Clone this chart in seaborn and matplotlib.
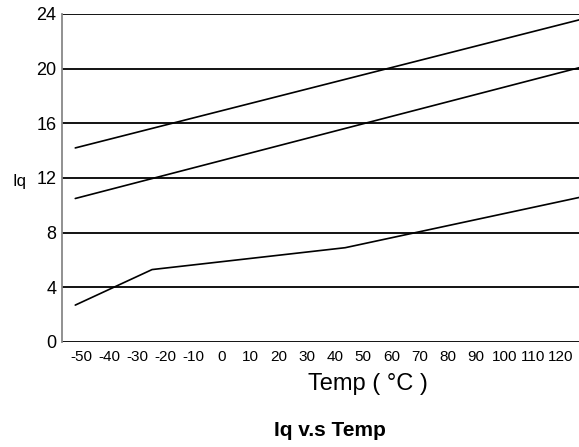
import pandas as pd
import matplotlib.pyplot as plt
import seaborn as sns

temp_a = [-52, 127]
iq_a = [14.2, 23.6]
temp_b = [-52, 127]
iq_b = [10.5, 20.1]
temp_c = [-52, -24.8, 43.6, 127]
iq_c = [2.7, 5.3, 6.9, 10.6]

x_ticks = [-50, -40, -30, -20, -10, 0, 10, 20, 30, 40, 50, 60, 70, 80, 90, 100, 110, 120]
y_ticks = [0, 4, 8, 12, 16, 20, 24]

df = pd.concat([
    pd.DataFrame({"Temp": temp_a, "Iq": iq_a, "curve": "a"}),
    pd.DataFrame({"Temp": temp_b, "Iq": iq_b, "curve": "b"}),
    pd.DataFrame({"Temp": temp_c, "Iq": iq_c, "curve": "c"}),
])

sns.set_style("white")
plt.rcParams["font.family"] = ["Liberation Sans", "DejaVu Sans"]
plt.rcParams["text.color"] = "black"
plt.rcParams["xtick.color"] = "black"
plt.rcParams["ytick.color"] = "black"

fig = plt.figure(figsize=(5.79, 4.47), dpi=100)
ax = fig.add_axes([62 / 579, 105 / 447, 1 - 62 / 579, 328 / 447])

sns.lineplot(data=df, x="Temp", y="Iq", units="curve", estimator=None,
             color="black", linewidth=1.2, ax=ax)

ax.set_xlim(-56.7, 126.4)
ax.set_ylim(0, 24)
ax.set_yticks(y_ticks)
ax.set_xticks(x_ticks)
ax.set_xticklabels([str(t) for t in x_ticks], fontsize=11)
ax.tick_params(axis="y", labelsize=13, length=0, pad=4, labelcolor="black")
ax.tick_params(axis="x", length=0, pad=6, labelcolor="black")
for y in y_ticks:
    ax.axhline(y, color="black", linewidth=1.3, zorder=1)
for s in ["top", "right", "bottom"]:
    ax.spines[s].set_visible(False)
ax.spines["left"].set_color("#888888")
ax.spines["left"].set_linewidth(1.3)
ax.set_xlabel("")
ax.set_ylabel("")

fig.text(12 / 579, 1 - 182 / 447, "Iq", fontsize=12, color="black", ha="left", va="center")
fig.text(368 / 579, 1 - 384 / 447, "Temp ( °C )", fontsize=17, color="black", ha="center", va="center")
fig.text(330 / 579, 1 - 430 / 447, "Iq v.s Temp", fontsize=15, weight="bold", color="black",
         ha="center", va="center")

fig.savefig("out.png", dpi=100)
